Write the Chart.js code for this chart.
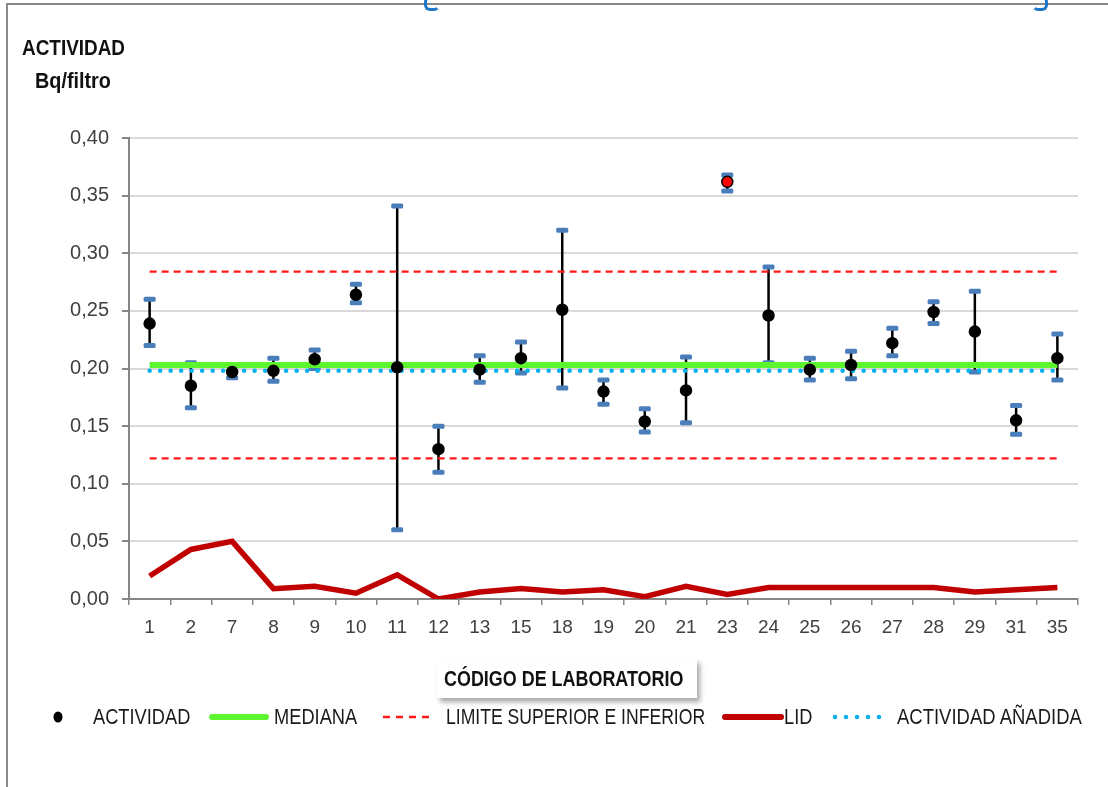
<!DOCTYPE html>
<html>
<head>
<meta charset="utf-8">
<script src="https://cdn.jsdelivr.net/npm/chart.js@4/dist/chart.umd.min.js"></script>
<style>
  html, body { margin: 0; padding: 0; background: #fff; }
  #wrap { position: relative; width: 1108px; height: 787px; overflow: hidden; background: #fff; }
  #c { position: absolute; left: 0; top: 0; }
  .frameTop { position: absolute; left: 6px; top: 3px; width: 1102px; height: 2px; background: #8a8a8a; }
  .frameLeft { position: absolute; left: 6px; top: 3px; width: 2px; height: 784px; background: #8a8a8a; }
  .blue { position: absolute; top: -4px; width: 10px; height: 9px; border: 3px solid #1f77c9; border-radius: 6px; }
  .cond { font-family: "Liberation Sans", Arial, sans-serif; display: inline-block; transform-origin: 0 50%; white-space: nowrap; }
  .ytitle { position: absolute; font-weight: bold; font-size: 22px; color: #111; line-height: 1; transform: scaleX(0.86); }
  .xtitle { position: absolute; left: 437px; top: 659px; width: 260px; height: 39px; background: #fff;
            box-shadow: 3px 4px 5px rgba(0,0,0,0.35); }
  .xtitle span { position: absolute; left: 7px; top: 0; font-weight: bold; font-size: 22px; color: #111; line-height: 40px; transform: scaleX(0.815); }
  .leg { position: absolute; top: 705px; height: 24px; font-size: 22px; color: #1a1a1a; line-height: 24px; }
  .sym { position: absolute; top: 705px; }
</style>
</head>
<body>
<div id="wrap">
  <canvas id="c" width="1108" height="787"></canvas>
  <div class="frameTop"></div>
  <div class="frameLeft"></div>
  <div class="blue" style="left:424px;border-right-color:transparent;border-top-color:transparent;"></div>
  <div class="blue" style="left:1032px;border-left-color:transparent;border-top-color:transparent;"></div>
  <div class="ytitle cond" style="left:22px;top:37px;">ACTIVIDAD</div>
  <div class="ytitle cond" style="left:35px;top:70px;transform:scaleX(0.9);">Bq/filtro</div>
  <div class="xtitle"><span class="cond" id="xtitle"></span></div>
  <div id="legend"></div>
</div>
<script>
// ---- data ----
const categories = ['1','2','7','8','9','10','11','12','13','15','18','19','20','21','23','24','25','26','27','28','29','31','35'];
const actividad = [0.239, 0.185, 0.197, 0.198, 0.208, 0.264, 0.201, 0.130, 0.199, 0.209, 0.251, 0.180, 0.154, 0.181, 0.362, 0.246, 0.199, 0.203, 0.222, 0.249, 0.232, 0.155, 0.209];
const errHigh   = [0.260, 0.205, 0.203, 0.209, 0.216, 0.273, 0.341, 0.150, 0.211, 0.223, 0.320, 0.190, 0.165, 0.210, 0.368, 0.288, 0.209, 0.215, 0.235, 0.258, 0.267, 0.168, 0.230];
const errLow    = [0.220, 0.166, 0.192, 0.189, 0.200, 0.257, 0.060, 0.110, 0.188, 0.196, 0.183, 0.169, 0.145, 0.153, 0.354, 0.205, 0.190, 0.191, 0.211, 0.239, 0.197, 0.143, 0.190];
const lid       = [0.020, 0.043, 0.050, 0.009, 0.011, 0.005, 0.021, 0.000, 0.006, 0.009, 0.006, 0.008, 0.002, 0.011, 0.004, 0.010, 0.010, 0.010, 0.010, 0.010, 0.006, 0.008, 0.010];
const outliers  = ['23'];
const mediana = 0.203;
const limiteSuperior = 0.284;
const limiteInferior = 0.122;
const actividadAnadida = 0.198;
const yTicks = [0, 0.05, 0.10, 0.15, 0.20, 0.25, 0.30, 0.35, 0.40];
const labels = {
  actividad: 'ACTIVIDAD', mediana: 'MEDIANA', limites: 'LIMITE SUPERIOR E INFERIOR',
  lid: 'LID', anadida: 'ACTIVIDAD AÑADIDA', xTitle: 'CÓDIGO DE LABORATORIO'
};

const COL = { green: '#5CF52E', red: '#FF1A1A', lid: '#C00000', blue: '#00B0F0', cap: '#4A7EBB', grid: '#D9D9D9', axis: '#868686' };
const TICKFONT = { family: 'Liberation Sans, Arial, sans-serif', size: 19 };

document.getElementById('xtitle').textContent = labels.xTitle;

// legend (HTML)
const legend = document.getElementById('legend');
function addLegend(svg, symLeft, text, textLeft, sx) {
  const s = document.createElement('div'); s.className = 'sym'; s.style.left = symLeft + 'px'; s.innerHTML = svg; legend.appendChild(s);
  const t = document.createElement('div'); t.className = 'leg cond'; t.style.left = textLeft + 'px';
  t.style.transform = 'scaleX(' + sx + ')'; t.textContent = text; legend.appendChild(t);
}
addLegend('<svg width="14" height="24"><ellipse cx="6" cy="12" rx="4.5" ry="5.5" fill="#000"/></svg>', 52, labels.actividad, 93, 0.83);
addLegend('<svg width="60" height="24"><line x1="3" y1="12" x2="57" y2="12" stroke="'+COL.green+'" stroke-width="6" stroke-linecap="round"/></svg>', 209, labels.mediana, 274, 0.83);
addLegend('<svg width="52" height="24"><line x1="1" y1="12" x2="51" y2="12" stroke="'+COL.red+'" stroke-width="2.5" stroke-dasharray="7 6"/></svg>', 382, labels.limites, 446, 0.80);
addLegend('<svg width="62" height="24"><line x1="3" y1="12" x2="59" y2="12" stroke="'+COL.lid+'" stroke-width="6" stroke-linecap="round"/></svg>', 722, labels.lid, 784, 0.83);
addLegend('<svg width="62" height="24"><line x1="3" y1="12" x2="58" y2="12" stroke="'+COL.blue+'" stroke-width="4.5" stroke-linecap="round" stroke-dasharray="0 11"/></svg>', 832, labels.anadida, 897, 0.84);

// error bars drawn through the chart's scales
const errorBars = {
  id: 'errorBars',
  beforeDatasetsDraw(chart) {
    const { ctx, scales: { x, y } } = chart;
    ctx.save();
    categories.forEach((c, i) => {
      const px = x.getPixelForValue(i);
      const yh = y.getPixelForValue(errHigh[i]);
      const yl = y.getPixelForValue(errLow[i]);
      ctx.strokeStyle = '#000'; ctx.lineWidth = 2.5; ctx.lineCap = 'butt';
      ctx.beginPath(); ctx.moveTo(px, yh); ctx.lineTo(px, yl); ctx.stroke();
      ctx.fillStyle = COL.cap;
      [yh, yl].forEach(py => {
        ctx.beginPath();
        if (ctx.roundRect) ctx.roundRect(px - 6, py - 2.5, 12, 5, 1.5); else ctx.rect(px - 6, py - 2.5, 12, 5);
        ctx.fill();
      });
    });
    ctx.restore();
  }
};

const flat = v => categories.map(() => v);

new Chart(document.getElementById('c'), {
  type: 'line',
  data: {
    labels: categories,
    datasets: [
      { label: labels.actividad, data: actividad, showLine: false, order: 0,
        pointRadius: 5.5, pointHoverRadius: 5.5, pointBorderWidth: 1.5, pointBorderColor: '#000',
        pointBackgroundColor: categories.map(c => outliers.includes(c) ? '#FF0000' : '#000') },
      { label: labels.anadida, data: flat(actividadAnadida), order: 1, borderColor: COL.blue, borderWidth: 4.5,
        borderDash: [0, 10.5], borderCapStyle: 'round', pointRadius: 0 },
      { label: labels.mediana, data: flat(mediana), order: 2, borderColor: COL.green, borderWidth: 6, pointRadius: 0 },
      { label: labels.limites, data: flat(limiteSuperior), order: 3, borderColor: COL.red, borderWidth: 2.2, borderDash: [7, 5], pointRadius: 0 },
      { label: labels.limites + ' (inf)', data: flat(limiteInferior), order: 3, borderColor: COL.red, borderWidth: 2.2, borderDash: [7, 5], pointRadius: 0 },
      { label: labels.lid, data: lid, order: 4, borderColor: COL.lid, borderWidth: 5.5, pointRadius: 0, borderJoinStyle: 'miter', tension: 0 }
    ]
  },
  options: {
    responsive: false,
    animation: false,
    events: [],
    layout: { padding: { left: 0, top: 138, right: 30, bottom: 0 } },
    plugins: { legend: { display: false }, tooltip: { enabled: false }, title: { display: false } },
    scales: {
      x: {
        type: 'category', offset: true,
        afterFit(scale) { scale.height = 188; },
        grid: { offset: true, drawOnChartArea: false, color: COL.axis, tickLength: 6, lineWidth: 1.5 },
        border: { color: COL.axis, width: 2 },
        ticks: { color: '#404040', font: TICKFONT, padding: 11, maxRotation: 0, autoSkip: false }
      },
      y: {
        min: 0, max: 0.4,
        afterFit(scale) { scale.width = 129; },
        afterBuildTicks(scale) { scale.ticks = yTicks.map(v => ({ value: v })); },
        grid: { color: COL.grid, tickColor: COL.axis, lineWidth: 2, tickLength: 7 },
        border: { color: COL.axis, width: 2 },
        ticks: { color: '#404040', font: { family: 'Liberation Sans, Arial, sans-serif', size: 20 }, padding: 13,
                 callback: v => Number(v).toFixed(2).replace('.', ',') }
      }
    }
  },
  plugins: [errorBars]
});
</script>
</body>
</html>
